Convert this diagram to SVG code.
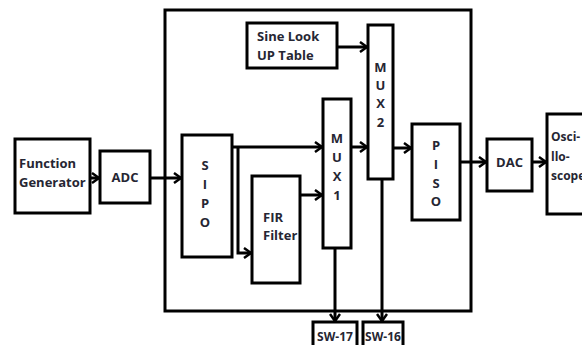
<svg xmlns="http://www.w3.org/2000/svg" width="582" height="345" viewBox="0 0 582 345">
<style>
.b{fill:#fff;stroke:#000;stroke-width:3}
.c{fill:none;stroke:#000;stroke-width:3}
text{font-family:"Open Sans","Liberation Sans",sans-serif;font-weight:bold;font-size:13px;fill:#262633}
.m{text-anchor:middle}
.s{font-size:12px}
</style>
<defs>
<marker id="a" markerWidth="12" markerHeight="12" refX="9" refY="6" orient="auto" markerUnits="userSpaceOnUse">
<path d="M2,1 L9,6 L2,11" fill="none" stroke="#000" stroke-width="2.5"/>
</marker>
</defs>
<rect width="582" height="345" fill="#fff"/>
<g id="container"><rect class="b" x="165" y="10" width="306" height="301" fill="none"/></g>
<g id="connectors">
<line class="c" x1="90" y1="178" x2="99" y2="178" marker-end="url(#a)"/>
<line class="c" x1="150" y1="178" x2="181" y2="178" marker-end="url(#a)"/>
<line class="c" x1="232" y1="147" x2="322" y2="147" marker-end="url(#a)"/>
<polyline class="c" points="238,147 238,253 251,253" marker-end="url(#a)"/>
<line class="c" x1="300" y1="195" x2="322" y2="195" marker-end="url(#a)"/>
<line class="c" x1="337" y1="47" x2="367" y2="47" marker-end="url(#a)"/>
<line class="c" x1="351" y1="147" x2="367" y2="147" marker-end="url(#a)"/>
<line class="c" x1="393" y1="148" x2="411" y2="148" marker-end="url(#a)"/>
<line class="c" x1="460" y1="162" x2="486" y2="162" marker-end="url(#a)"/>
<line class="c" x1="532" y1="162" x2="546" y2="162" marker-end="url(#a)"/>
<line class="c" x1="335" y1="248" x2="335" y2="321" marker-end="url(#a)"/>
<line class="c" x1="382" y1="179" x2="382" y2="321" marker-end="url(#a)"/>
</g>
<g id="fg"><rect class="b" x="15" y="139" width="75" height="74"/><text x="19" y="168">Function</text><text x="19" y="187">Generator</text></g>
<g id="adc"><rect class="b" x="100" y="151" width="50" height="52"/><text class="m" x="125" y="182">ADC</text></g>
<g id="sipo"><rect class="b" x="182" y="135" width="50" height="122"/><text class="m" x="205" y="170">S</text><text class="m" x="205" y="189">I</text><text class="m" x="205" y="208">P</text><text class="m" x="205" y="227">O</text></g>
<g id="fir"><rect class="b" x="252" y="176" width="48" height="107"/><text x="263" y="222">FIR</text><text x="263" y="240">Filter</text></g>
<g id="sine"><rect class="b" x="247" y="23" width="90" height="45"/><text x="257" y="41">Sine Look</text><text x="257" y="60">UP Table</text></g>
<g id="mux1"><rect class="b" x="323" y="99" width="28" height="149"/><text class="m" x="337" y="143">M</text><text class="m" x="337" y="162">U</text><text class="m" x="337" y="181">X</text><text class="m" x="337" y="200">1</text></g>
<g id="mux2"><rect class="b" x="368" y="25" width="25" height="154"/><text class="m" x="380.5" y="72">M</text><text class="m" x="380.5" y="90">U</text><text class="m" x="380.5" y="108">X</text><text class="m" x="380.5" y="127">2</text></g>
<g id="piso"><rect class="b" x="412" y="124" width="48" height="96"/><text class="m" x="436" y="150">P</text><text class="m" x="436" y="169">I</text><text class="m" x="436" y="188">S</text><text class="m" x="436" y="206">O</text></g>
<g id="dac"><rect class="b" x="487" y="139" width="45" height="52"/><text class="m" x="509.5" y="167">DAC</text></g>
<g id="osc"><rect class="b" x="547" y="114" width="45" height="100"/><text class="s" x="551" y="141">Osci-</text><text class="s" x="551" y="161">llo-</text><text class="s" x="551" y="180">scope</text></g>
<g id="sw17"><rect class="b" x="313" y="322" width="44" height="30"/><text class="m s" x="335" y="341">SW-17</text></g>
<g id="sw16"><rect class="b" x="363" y="322" width="40" height="30"/><text class="m s" x="383" y="341">SW-16</text></g>
</svg>
